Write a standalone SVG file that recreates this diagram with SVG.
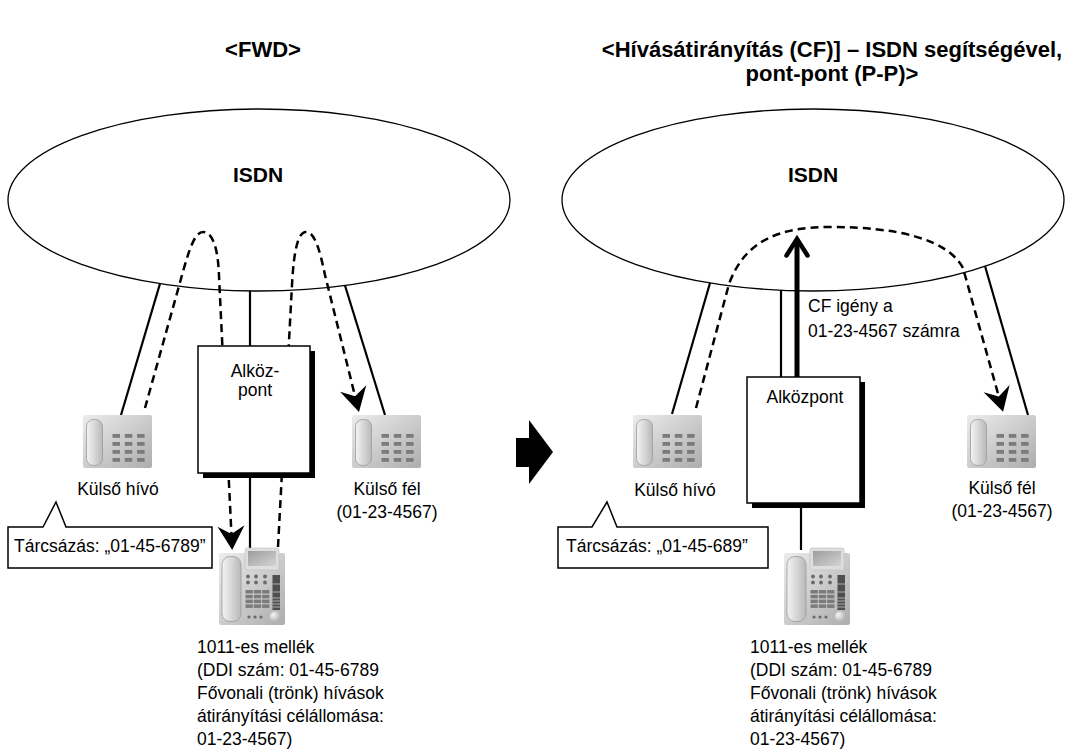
<svg xmlns="http://www.w3.org/2000/svg" xmlns:xlink="http://www.w3.org/1999/xlink" width="1077" height="753" viewBox="0 0 1077 753">
  <style>
    text { font-family: "Liberation Sans", Arial, sans-serif; font-size: 17.5px; fill: #000; }
    .title { font-size: 22px; font-weight: bold; text-anchor: middle; }
    .cloud-label { font-size: 21px; font-weight: bold; text-anchor: middle; }
    .mid { text-anchor: middle; }
    .cloud { fill: #fff; stroke: #000; stroke-width: 1.3; }
    .wire { fill: none; stroke: #000; stroke-width: 2.2; }
    .flow { fill: none; stroke: #000; stroke-width: 2.5; stroke-dasharray: 8 5; marker-end: url(#barb); }
    .box { fill: #fff; stroke: #000; stroke-width: 1.5; }
    .shadow { fill: #000; }
    .callout { fill: #fff; stroke: #000; stroke-width: 1.5; }
  </style>
  <defs>
    <marker id="barb" markerUnits="userSpaceOnUse" viewBox="-24 -15 29 30" refX="0" refY="0" markerWidth="29" markerHeight="30" orient="auto">
      <path d="M4,0 L-20,-13.5 L-12,0 L-20,13.5 Z" fill="#000" stroke="none"/>
    </marker>
    <linearGradient id="gBody" x1="0" y1="0" x2="1" y2="1">
      <stop offset="0" stop-color="#ececec"/>
      <stop offset="1" stop-color="#adadad"/>
    </linearGradient>
    <linearGradient id="gHandset" x1="0" y1="0" x2="1" y2="0">
      <stop offset="0" stop-color="#f4f4f4"/>
      <stop offset="1" stop-color="#b9b9b9"/>
    </linearGradient>
    <linearGradient id="gScreen" x1="0" y1="0" x2="1" y2="1">
      <stop offset="0" stop-color="#9c9c9c"/>
      <stop offset="1" stop-color="#d4d4d4"/>
    </linearGradient>
    <radialGradient id="gKnob" cx="0.35" cy="0.35" r="0.7">
      <stop offset="0" stop-color="#f6f6f6"/>
      <stop offset="1" stop-color="#b0b0b0"/>
    </radialGradient>

    <!-- simple outside telephone, 69 x 53 -->
    <symbol id="phone-s" viewBox="0 0 69 53" overflow="visible">
      <rect x="0" y="0" width="69" height="53" rx="2" fill="url(#gBody)"/>
      <rect x="3.5" y="4.5" width="16" height="46" rx="7" fill="url(#gHandset)" stroke="#9a9a9a" stroke-width="0.8"/>
      <g fill="#7b7b7b">
        <rect x="29.5" y="19" width="7.5" height="3.8"/><rect x="41.8" y="19" width="7.5" height="3.8"/><rect x="54.1" y="19" width="7.5" height="3.8"/>
        <rect x="29.5" y="27" width="7.5" height="3.8"/><rect x="41.8" y="27" width="7.5" height="3.8"/><rect x="54.1" y="27" width="7.5" height="3.8"/>
        <rect x="29.5" y="35" width="7.5" height="3.8"/><rect x="41.8" y="35" width="7.5" height="3.8"/><rect x="54.1" y="35" width="7.5" height="3.8"/>
        <rect x="29.5" y="43" width="7.5" height="3.8"/><rect x="41.8" y="43" width="7.5" height="3.8"/><rect x="54.1" y="43" width="7.5" height="3.8"/>
      </g>
    </symbol>

    <!-- proprietary extension telephone, 67 x 77 -->
    <symbol id="phone-l" viewBox="0 0 67 77" overflow="visible">
      <rect x="1" y="5" width="66" height="72" rx="2" fill="url(#gBody)"/>
      <rect x="27" y="0" width="34" height="22" rx="2" fill="#dedede" stroke="#bdbdbd" stroke-width="0.6"/>
      <rect x="30" y="3" width="28" height="15" fill="url(#gScreen)"/>
      <rect x="4" y="8.5" width="19" height="65" rx="8" fill="url(#gHandset)" stroke="#9a9a9a" stroke-width="0.8"/>
      <g fill="#6a6a6a">
        <circle cx="30" cy="28.5" r="1.9"/><circle cx="38" cy="28.5" r="1.9"/><circle cx="47" cy="28.5" r="1.9"/>
        <circle cx="30" cy="34.5" r="1.9"/><circle cx="38" cy="34.5" r="1.9"/><circle cx="47" cy="34.5" r="1.9"/>
        <circle cx="31" cy="69" r="1.6"/><circle cx="37" cy="69" r="1.6"/><circle cx="43" cy="69" r="1.6"/>
      </g>
      <g fill="#7b7b7b">
        <rect x="27.5" y="42" width="7.3" height="3.5"/><rect x="35.8" y="42" width="7.3" height="3.5"/><rect x="44.1" y="42" width="7.3" height="3.5"/>
        <rect x="27.5" y="46.8" width="7.3" height="3.5"/><rect x="35.8" y="46.8" width="7.3" height="3.5"/><rect x="44.1" y="46.8" width="7.3" height="3.5"/>
        <rect x="27.5" y="51.6" width="7.3" height="3.5"/><rect x="35.8" y="51.6" width="7.3" height="3.5"/><rect x="44.1" y="51.6" width="7.3" height="3.5"/>
        <rect x="27.5" y="56.4" width="7.3" height="3.5"/><rect x="35.8" y="56.4" width="7.3" height="3.5"/><rect x="44.1" y="56.4" width="7.3" height="3.5"/>
      </g>
      <rect x="54.5" y="27" width="7.5" height="35" fill="#4f4f4f"/>
      <g stroke="#c8c8c8" stroke-width="0.8">
        <line x1="54.5" y1="36" x2="62" y2="36"/><line x1="54.5" y1="44" x2="62" y2="44"/>
        <line x1="54.5" y1="50" x2="62" y2="50"/><line x1="54.5" y1="53" x2="62" y2="53"/>
        <line x1="54.5" y1="56" x2="62" y2="56"/><line x1="54.5" y1="59" x2="62" y2="59"/>
      </g>
      <circle cx="57" cy="68.5" r="5.2" fill="url(#gKnob)"/>
    </symbol>
  </defs>

  <rect width="1077" height="753" fill="#fff"/>

  <!-- headings -->
  <g id="headings">
    <text class="title" x="263" y="57">&lt;FWD&gt;</text>
    <text class="title" x="832" y="57">&lt;Hívásátirányítás (CF)] – ISDN segítségével,</text>
    <text class="title" x="832" y="81">pont-pont (P-P)&gt;</text>
  </g>

  <!-- ===== left scheme: FWD through the PBX ===== -->
  <g id="isdn-left">
    <ellipse class="cloud" cx="259" cy="200" rx="251" ry="91"/>
    <text class="cloud-label" x="258" y="182">ISDN</text>
  </g>

  <g id="connectors-left">
    <line class="wire" x1="160" y1="283.6" x2="121" y2="415"/>
    <line class="wire" x1="250" y1="291" x2="250" y2="346"/>
    <line class="wire" x1="250" y1="473" x2="250" y2="548"/>
    <line class="wire" x1="345" y1="285.5" x2="385" y2="415"/>
    <path class="flow" d="M145,408 L184,268 C192,240 197,232 203,232 C212,232 218,246 219,276 L232,546"/>
    <path class="flow" d="M278,547 L292,285 C294,246 299,232 306,232 C314,232 319,246 325,275 L358,408"/>
  </g>

  <g id="pbx-left">
    <rect class="shadow" x="203" y="351" width="112" height="127"/>
    <rect class="box" x="198" y="346" width="112" height="127"/>
    <text class="mid" x="255" y="377">Alköz-</text>
    <text class="mid" x="255" y="396">pont</text>
  </g>

  <g id="caller-left">
    <use href="#phone-s" xlink:href="#phone-s" x="83" y="415" width="69" height="53"/>
    <text class="mid" x="118" y="495">Külső hívó</text>
  </g>

  <g id="callout-left">
    <path class="callout" d="M8,527 L43,527 L56,502 L66,527 L212,527 L212,568 L8,568 Z"/>
    <text x="14" y="552">Tárcsázás: „01-45-6789”</text>
  </g>

  <g id="party-left">
    <use href="#phone-s" xlink:href="#phone-s" x="352" y="415" width="69" height="53"/>
    <text class="mid" x="387" y="495">Külső fél</text>
    <text class="mid" x="387" y="518">(01-23-4567)</text>
  </g>

  <g id="extension-left">
    <use href="#phone-l" xlink:href="#phone-l" x="218" y="548" width="67" height="77"/>
    <text x="197" y="653">1011-es mellék</text>
    <text x="197" y="676">(DDI szám: 01-45-6789</text>
    <text x="197" y="699">Fővonali (trönk) hívások</text>
    <text x="197" y="722">átirányítási célállomása:</text>
    <text x="197" y="745">01-23-4567)</text>
  </g>

  <!-- transition arrow -->
  <g id="step-arrow">
    <polygon points="516,438 529,438 529,420 553,452 529,484 529,467 516,467" fill="#000"/>
  </g>

  <!-- ===== right scheme: CF via ISDN, point-to-point ===== -->
  <g id="isdn-right">
    <ellipse class="cloud" cx="813" cy="200" rx="251" ry="91"/>
    <text class="cloud-label" x="813" y="182">ISDN</text>
  </g>

  <g id="connectors-right">
    <line class="wire" x1="710" y1="283" x2="672" y2="414"/>
    <line class="wire" x1="781" y1="290" x2="781" y2="377"/>
    <line class="wire" x1="801" y1="503" x2="801" y2="550"/>
    <line class="wire" x1="985" y1="266" x2="1028" y2="415"/>
    <line x1="797" y1="377" x2="797" y2="242" stroke="#000" stroke-width="5"/>
    <polyline points="786.5,255.5 797,239 807.5,255.5" fill="none" stroke="#000" stroke-width="4.5" stroke-linecap="round" stroke-linejoin="miter"/>
    <path class="flow" d="M696,408 L729,284 C745,240 780,227 830,227 C900,227 948,240 963,268 L1002,408"/>
  </g>

  <g id="cf-request">
    <text x="808" y="312">CF igény a</text>
    <text x="808" y="337">01-23-4567 számra</text>
  </g>

  <g id="pbx-right">
    <rect class="shadow" x="752" y="382" width="113" height="126"/>
    <rect class="box" x="747" y="377" width="113" height="126"/>
    <text class="mid" x="805" y="403">Alközpont</text>
  </g>

  <g id="caller-right">
    <use href="#phone-s" xlink:href="#phone-s" x="633" y="415" width="69" height="53"/>
    <text class="mid" x="675" y="496">Külső hívó</text>
  </g>

  <g id="callout-right">
    <path class="callout" d="M558,527 L592,527 L607,502 L617,527 L768,527 L768,568 L558,568 Z"/>
    <text x="566" y="552">Tárcsázás: „01-45-689”</text>
  </g>

  <g id="party-right">
    <use href="#phone-s" xlink:href="#phone-s" x="967" y="415" width="69" height="53"/>
    <text class="mid" x="1002" y="494">Külső fél</text>
    <text class="mid" x="1002" y="517">(01-23-4567)</text>
  </g>

  <g id="extension-right">
    <use href="#phone-l" xlink:href="#phone-l" x="783" y="548" width="67" height="77"/>
    <text x="750" y="653">1011-es mellék</text>
    <text x="750" y="676">(DDI szám: 01-45-6789</text>
    <text x="750" y="699">Fővonali (trönk) hívások</text>
    <text x="750" y="722">átirányítási célállomása:</text>
    <text x="750" y="745">01-23-4567)</text>
  </g>
</svg>
